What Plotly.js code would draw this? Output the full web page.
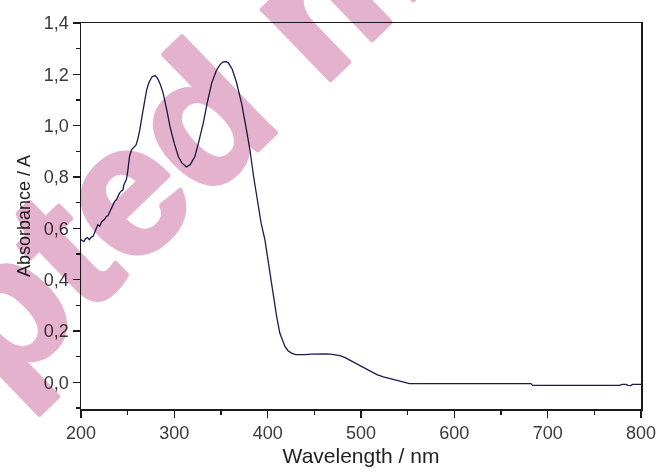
<!DOCTYPE html>
<html>
<head>
<meta charset="utf-8">
<script src="https://cdn.plot.ly/plotly-3.0.1.min.js"></script>
<style>
html,body{margin:0;padding:0;background:#fff;}
#chart{width:659px;height:473px;}
#chart .annotation{mix-blend-mode:multiply;}
#chart .annotation text.annotation-text{stroke:rgb(229,178,206);stroke-width:5px;stroke-linejoin:round;}
</style>
</head>
<body>
<div id="chart"></div>
<script>
// Wavelength (nm)
const wavelength = [200,203,205,207,209,211,213,215,217,218,220,222,225,227,229,231,233,235,236,238,240,241.5,243,245,246,248.6,250,252,254,257,259,261,263,266,268,270.4,273,276,279.3,282,285,288,292,295.3,300,304.3,308,313,317,322,326,331,335,340,345,349,352,355.4,358,362,366.5,370,372,376,381,385,389.7,393,397,400,404,407,409.6,413,416,418.5,422,425.6,430,435,440,447,455,462,467,472,477.5,483,488,495,502,510,517,524,531,537,542,547,552,600,650,682,684,720,777,780,784,786,789,791,800];
// Absorbance (A)
const absorbance = [0.556,0.548,0.560,0.564,0.556,0.566,0.569,0.585,0.600,0.614,0.608,0.625,0.634,0.645,0.650,0.666,0.678,0.698,0.705,0.712,0.730,0.738,0.745,0.750,0.770,0.790,0.820,0.880,0.906,0.918,0.925,0.950,0.984,1.050,1.100,1.140,1.170,1.190,1.195,1.185,1.160,1.127,1.060,0.997,0.930,0.880,0.855,0.839,0.848,0.880,0.935,1.010,1.085,1.166,1.215,1.238,1.248,1.250,1.244,1.220,1.170,1.120,1.088,1.010,0.906,0.800,0.699,0.620,0.556,0.480,0.387,0.310,0.257,0.192,0.160,0.140,0.122,0.114,0.108,0.107,0.108,0.110,0.112,0.111,0.110,0.108,0.104,0.096,0.086,0.072,0.057,0.042,0.030,0.021,0.014,0.008,0.004,0.000,-0.005,-0.005,-0.005,-0.005,-0.012,-0.012,-0.012,-0.008,-0.008,-0.012,-0.013,-0.008,-0.008];
const xTicks = [200,300,400,500,600,700,800];
const yTicks = [0.0,0.2,0.4,0.6,0.8,1.0,1.2,1.4];
const xTitle = 'Wavelength / nm';
const yTitle = 'Absorbance / A';
const watermark = 'Accepted manuscript';

const font = 'Liberation Sans, Arial, sans-serif';
const trace = {
  x: wavelength, y: absorbance, type: 'scatter', mode: 'lines',
  line: {color: '#1c1c4e', width: 1.3}, hoverinfo: 'skip'
};
const axisCommon = {
  showline: true, linecolor: '#1a1a1a', linewidth: 1.5, mirror: true,
  ticks: 'outside', ticklen: 7, tickwidth: 1.5, tickcolor: '#1a1a1a',
  showgrid: false, zeroline: false,
  tickfont: {family: font, size: 18, color: '#3a3a3a'}
};
const layout = {
  width: 659, height: 473,
  margin: {l: 81, r: 18, t: 23, b: 64},
  paper_bgcolor: '#fff', plot_bgcolor: '#fff',
  separators: ',.',
  showlegend: false,
  xaxis: Object.assign({}, axisCommon, {
    range: [200, 800], tickmode: 'array', tickvals: xTicks,
    minor: {dtick: 50, ticks: 'outside', ticklen: 4, tickwidth: 1.5, tickcolor: '#1a1a1a'},
    title: {text: xTitle, font: {family: font, size: 21, color: '#222'}, standoff: 6}
  }),
  yaxis: Object.assign({}, axisCommon, {
    range: [-0.104, 1.4], tickmode: 'array', tickvals: yTicks, tickformat: '.1f',
    minor: {dtick: 0.1, tick0: 0, ticks: 'outside', ticklen: 4, tickwidth: 1.5, tickcolor: '#1a1a1a'},
    title: {text: yTitle, font: {family: font, size: 18, color: '#222'}, standoff: 8}
  }),
  annotations: [{
    text: '<b>' + watermark + '</b>', xref: 'paper', yref: 'paper',
    x: 0.4232, y: 1.051, xanchor: 'center', yanchor: 'middle',
    textangle: -44, showarrow: false,
    font: {family: font, size: 185, color: 'rgb(229,178,206)'}
  }]
};
Plotly.newPlot('chart', [trace], layout, {staticPlot: true, displayModeBar: false});
</script>
</body>
</html>
